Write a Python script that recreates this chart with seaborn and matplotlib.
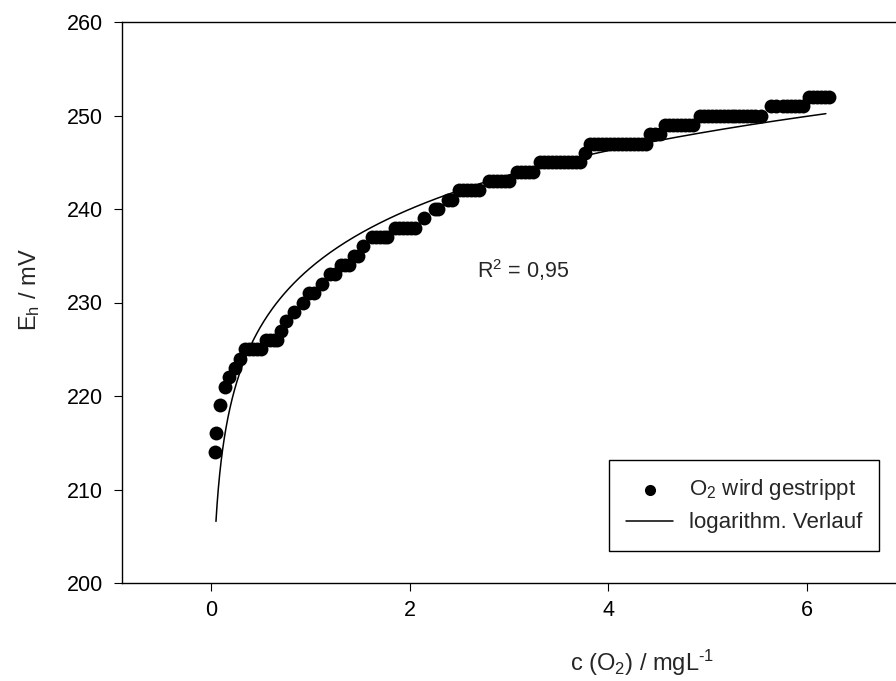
import matplotlib
matplotlib.use("Agg")
import matplotlib.pyplot as plt
import seaborn as sns
import numpy as np
import pandas as pd

# ---- data ----
conc = [0.04, 0.05, 0.09, 0.14, 0.18, 0.24, 0.29,
        0.34, 0.38, 0.42, 0.46, 0.50,
        0.55, 0.59, 0.63, 0.66,
        0.70, 0.76, 0.84, 0.93,
        0.99, 1.04, 1.12, 1.20, 1.25,
        1.31, 1.35, 1.39, 1.44, 1.48, 1.53,
        1.62, 1.66, 1.70, 1.74, 1.77,
        1.85, 1.89, 1.93, 1.97, 2.01, 2.05,
        2.14, 2.25, 2.29, 2.39, 2.43,
        2.50, 2.54, 2.58, 2.62, 2.66, 2.70,
        2.80, 2.84, 2.88, 2.92, 2.96, 3.00,
        3.08, 3.12, 3.16, 3.20, 3.24,
        3.31, 3.35, 3.39, 3.43, 3.47, 3.51, 3.55, 3.59, 3.63, 3.67, 3.71,
        3.77,
        3.82, 3.86, 3.90, 3.94, 3.98, 4.02, 4.06, 4.10, 4.14, 4.18, 4.22, 4.26, 4.30, 4.34, 4.38,
        4.42, 4.47, 4.52,
        4.57, 4.61, 4.65, 4.69, 4.73, 4.77, 4.81, 4.85,
        4.92, 4.96, 5.00, 5.04, 5.08, 5.12, 5.16, 5.20, 5.24, 5.28, 5.32, 5.36, 5.40, 5.44, 5.48, 5.54,
        5.64, 5.69, 5.76, 5.80, 5.84, 5.88, 5.92, 5.96,
        6.02, 6.06, 6.10, 6.14, 6.18, 6.22]
eh = [214, 216, 219, 221, 222, 223, 224,
      225, 225, 225, 225, 225,
      226, 226, 226, 226,
      227, 228, 229, 230,
      231, 231, 232, 233, 233,
      234, 234, 234, 235, 235, 236,
      237, 237, 237, 237, 237,
      238, 238, 238, 238, 238, 238,
      239, 240, 240, 241, 241,
      242, 242, 242, 242, 242, 242,
      243, 243, 243, 243, 243, 243,
      244, 244, 244, 244, 244,
      245, 245, 245, 245, 245, 245, 245, 245, 245, 245, 245,
      246,
      247, 247, 247, 247, 247, 247, 247, 247, 247, 247, 247, 247, 247, 247, 247,
      248, 248, 248,
      249, 249, 249, 249, 249, 249, 249, 249,
      250, 250, 250, 250, 250, 250, 250, 250, 250, 250, 250, 250, 250, 250, 250, 250,
      251, 251, 251, 251, 251, 251, 251, 251,
      252, 252, 252, 252, 252, 252]

# logarithmic fit  Eh = a + b*ln(c)
fit_a = 233.7
fit_b = 9.05
fit_range = [0.05, 6.19]

x_ticks = [0, 2, 4, 6]
y_ticks = [200, 210, 220, 230, 240, 250, 260]

series_label = r"O$_2$ wird gestrippt"
fit_label = "logarithm. Verlauf"
r2_text = r"R$^2$ = 0,95"

# ---- style ----
sns.set_style("ticks")
plt.rcParams["font.family"] = ["Liberation Sans", "DejaVu Sans"]
plt.rcParams["mathtext.fontset"] = "custom"
plt.rcParams["mathtext.rm"] = "Liberation Sans"
plt.rcParams["mathtext.it"] = "Liberation Sans"
plt.rcParams["mathtext.bf"] = "Liberation Sans:bold"

W, H = 896, 681
fig = plt.figure(figsize=(W / 100, H / 100), dpi=100)
ax = fig.add_axes([122 / W, 1 - 583 / H, (W - 122) / W, 561 / H])

df = pd.DataFrame({"c": conc, "Eh": eh})
sns.scatterplot(data=df, x="c", y="Eh", ax=ax, color="black", s=100,
                edgecolor="black", linewidth=0, label=series_label, zorder=3)

xf = np.geomspace(fit_range[0], fit_range[1], 400)
fit_df = pd.DataFrame({"c": xf, "Eh": fit_a + fit_b * np.log(xf)})
sns.lineplot(data=fit_df, x="c", y="Eh", ax=ax, color="black", linewidth=1.1,
             label=fit_label, zorder=2)

ax.set_xlim(-0.896, 6.896)
ax.set_ylim(200, 260)
ax.set_xticks(x_ticks)
ax.set_yticks(y_ticks)
ax.tick_params(axis="both", direction="out", length=5.5, width=0.8,
               labelsize=15.5, color="black", labelcolor="black")
ax.tick_params(axis="x", pad=7)
ax.tick_params(axis="y", pad=8)
for s in ["left", "bottom", "top"]:
    ax.spines[s].set_linewidth(1.0)
    ax.spines[s].set_color("black")
ax.spines["right"].set_visible(False)

ax.set_xlabel(r"c (O$_2$) / mgL$^{\text{-1}}$", fontsize=17, va="center")
ax.xaxis.set_label_coords((642 - 122) / (W - 122), (583 - 663) / 561)
ax.set_ylabel(r"E$_\mathrm{h}$ / mV", fontsize=17, va="center")
ax.yaxis.set_label_coords((30 - 122) / (W - 122), (583 - 290) / 561)

ax.text(2.675, 233.5, r2_text, fontsize=15.5, va="center", ha="left")

handles, labels = ax.get_legend_handles_labels()
leg = ax.legend(handles, labels, loc="upper left",
                bbox_to_anchor=(609 / W, 1 - 460 / H), bbox_transform=fig.transFigure,
                fontsize=16, frameon=True, fancybox=False, shadow=False,
                borderpad=0.78, labelspacing=0.45, handlelength=2.1,
                handletextpad=0.7, borderaxespad=0, markerscale=0.8)
leg.get_frame().set_edgecolor("black")
leg.get_frame().set_linewidth(1.0)
leg.get_frame().set_alpha(1)

fig.savefig("out.png", dpi=100)
